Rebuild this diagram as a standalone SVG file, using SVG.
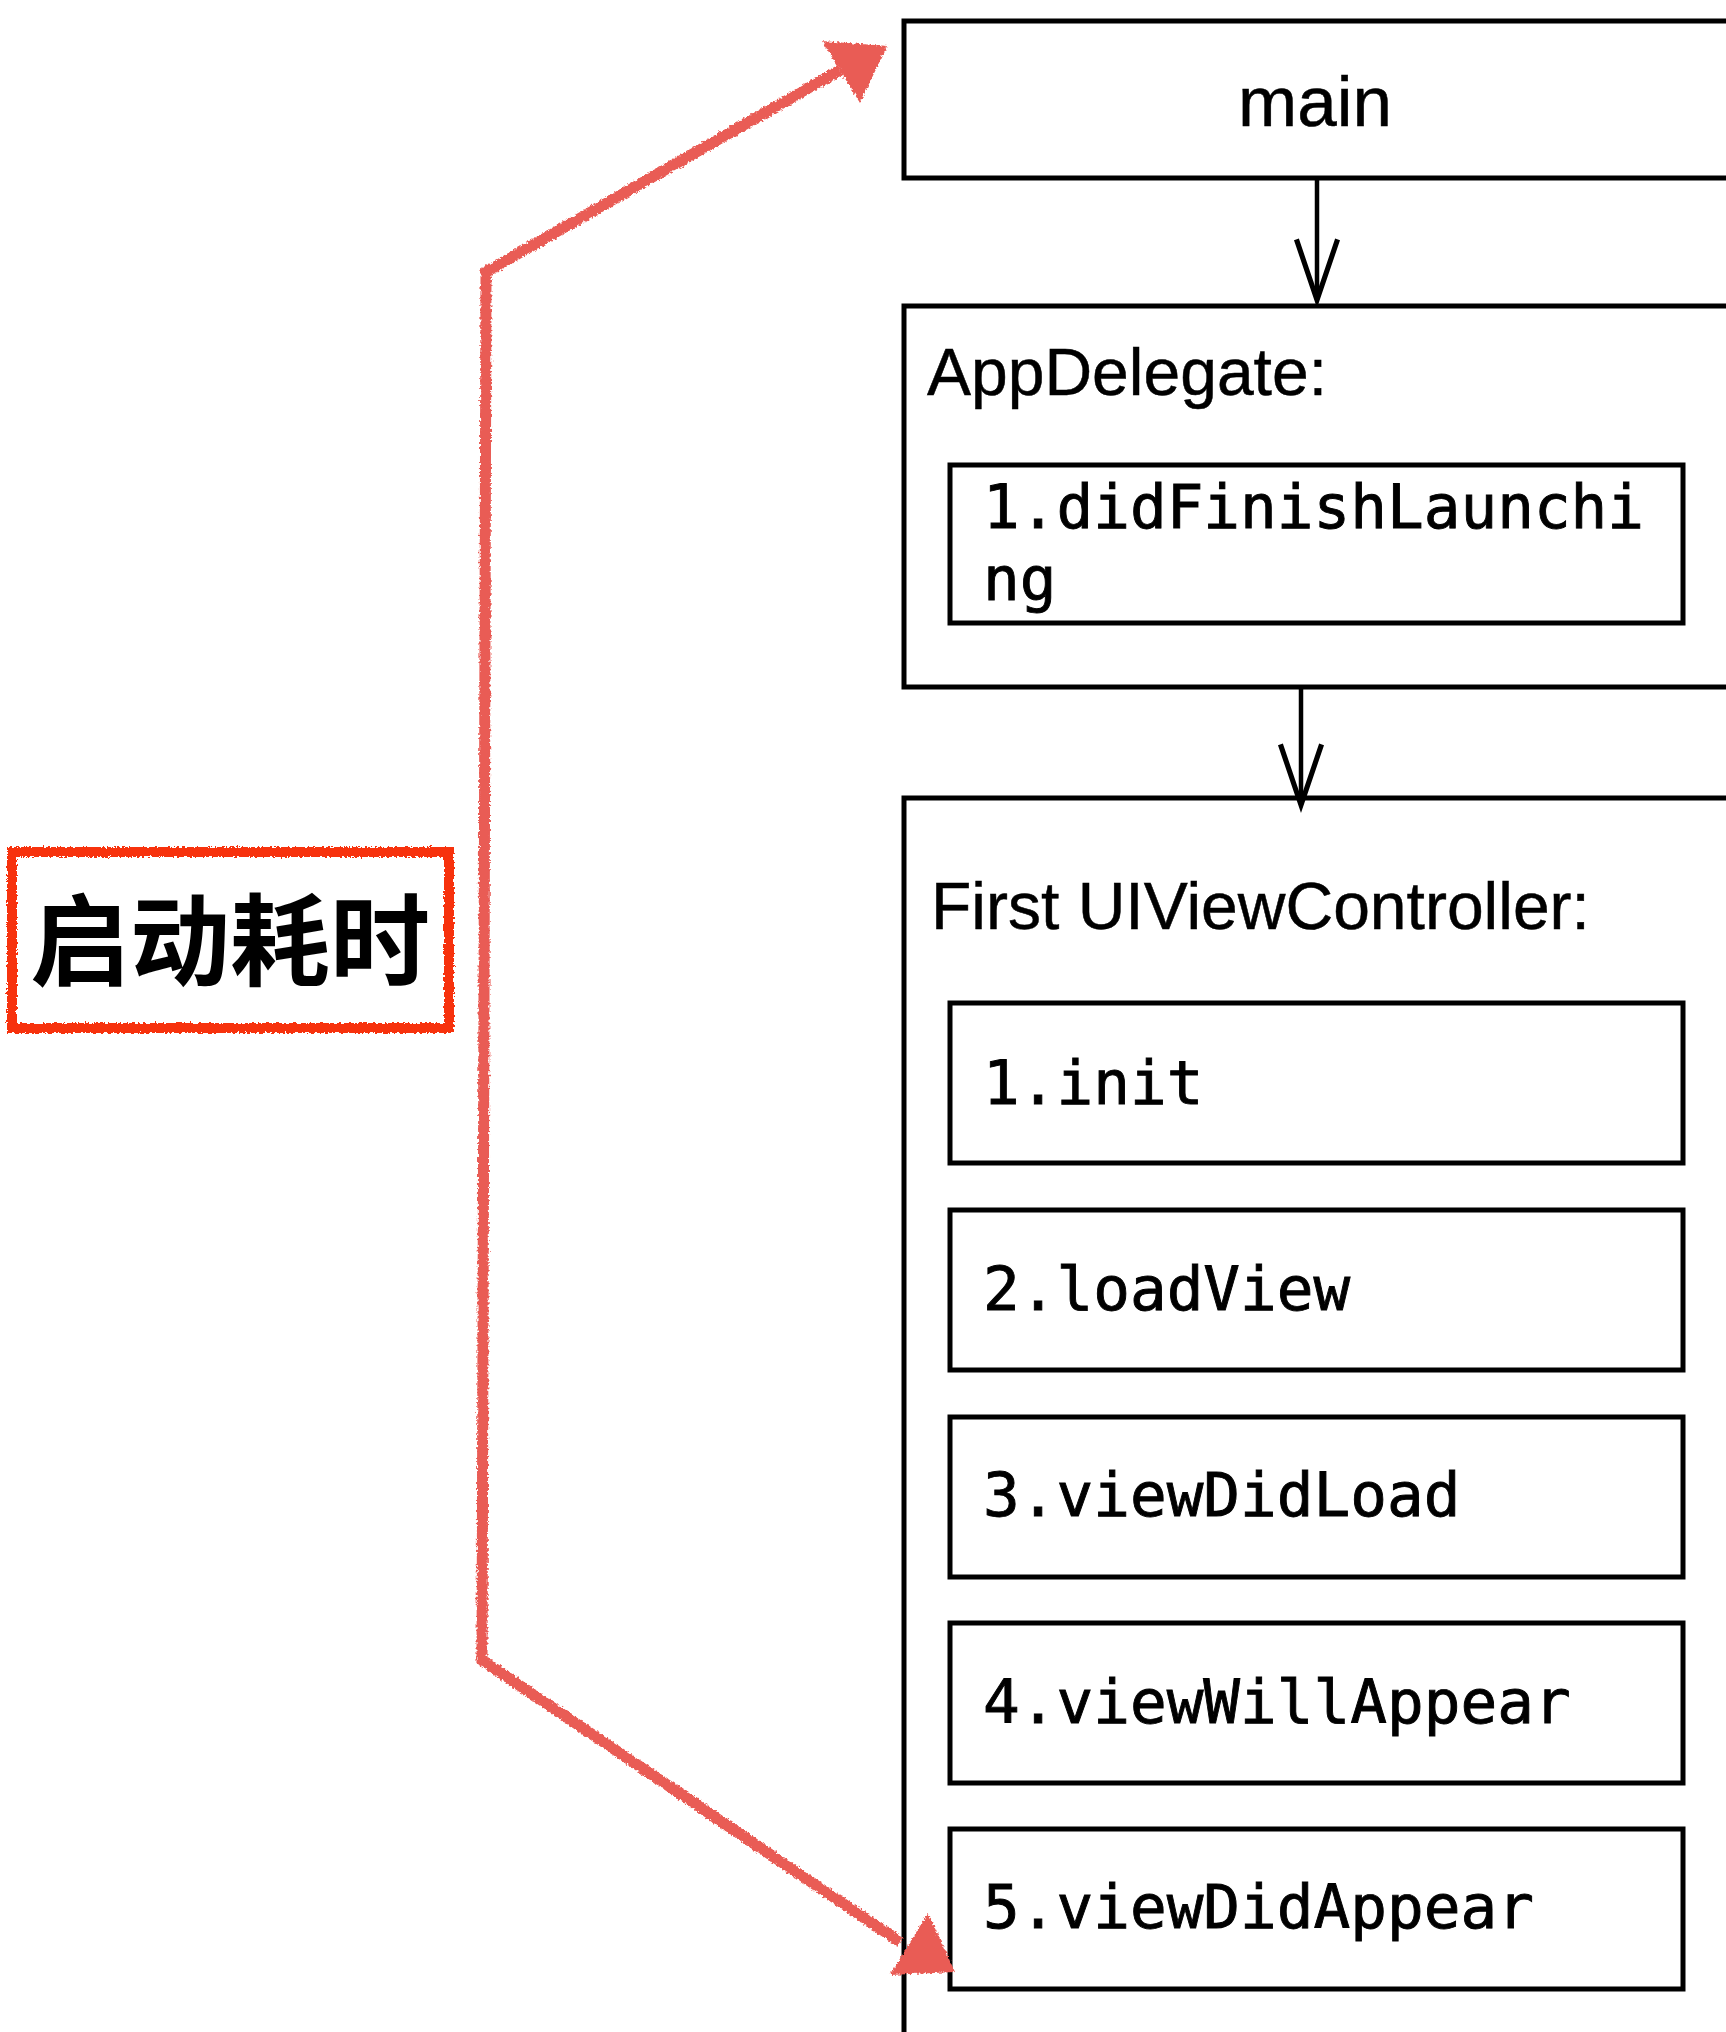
<svg xmlns="http://www.w3.org/2000/svg" width="1726" height="2032" viewBox="0 0 1726 2032">
<style>
.box{fill:none;stroke:#000;stroke-width:5}
.sans{font-family:"Liberation Sans",Arial,sans-serif;fill:#000;stroke:#000;stroke-width:0.5}
.mono{font-family:"DejaVu Sans Mono","Liberation Mono",monospace;font-size:61px;fill:#000;stroke:#000;stroke-width:0.9}
.conn{fill:none;stroke:#000;stroke-width:4.5}
.red{fill:none;stroke:#E95B55;stroke-width:11;stroke-linejoin:miter}
.redhead{fill:#E95B55}
.cjk{font-family:"Noto Sans CJK SC","Noto Sans CJK JP",sans-serif;font-weight:700;font-size:100px;fill:#000}
</style>
<defs>
<marker id="vhead" markerUnits="userSpaceOnUse" markerWidth="80" markerHeight="60" viewBox="-60 -25 70 50" refX="0" refY="0" orient="auto" overflow="visible">
<path d="M-53,-18 L0,0 L-53,18" fill="none" stroke="#000" stroke-width="4.5"/>
</marker>
<filter id="rough" x="-5%" y="-5%" width="110%" height="110%">
<feTurbulence type="fractalNoise" baseFrequency="0.4" numOctaves="2" seed="4" result="n"/>
<feDisplacementMap in="SourceGraphic" in2="n" scale="5" xChannelSelector="R" yChannelSelector="G"/>
</filter>
</defs>
<rect width="1726" height="2032" fill="#fff"/>

<g id="node-main">
<rect class="box" x="904" y="21" width="840" height="157"/>
<text class="sans" x="1315" y="126" font-size="71" text-anchor="middle">main</text>
</g>

<g id="node-appdelegate">
<rect class="box" x="904" y="306" width="840" height="381"/>
<text class="sans" x="927" y="395" font-size="66">AppDelegate:</text>
</g>

<g id="node-didfinish">
<rect class="box" x="950" y="465" width="733" height="158"/>
<text class="mono" x="983" y="528">1.didFinishLaunchi</text>
<text class="mono" x="983" y="600">ng</text>
</g>

<g id="node-viewcontroller">
<rect class="box" x="904" y="798" width="840" height="1260"/>
<text class="sans" x="931" y="929" font-size="66">First UIViewController:</text>
</g>

<g id="node-init">
<rect class="box" x="950" y="1003" width="733" height="160"/>
<text class="mono" x="983" y="1104">1.init</text>
</g>
<g id="node-loadview">
<rect class="box" x="950" y="1210" width="733" height="160"/>
<text class="mono" x="983" y="1310">2.loadView</text>
</g>
<g id="node-viewdidload">
<rect class="box" x="950" y="1417" width="733" height="160"/>
<text class="mono" x="983" y="1516">3.viewDidLoad</text>
</g>
<g id="node-viewwillappear">
<rect class="box" x="950" y="1623" width="733" height="160"/>
<text class="mono" x="983" y="1723">4.viewWillAppear</text>
</g>
<g id="node-viewdidappear">
<rect class="box" x="950" y="1829" width="733" height="160"/>
<text class="mono" x="983" y="1928">5.viewDidAppear</text>
</g>

<g id="node-label">
<rect x="12" y="852" width="437" height="176" fill="#fff" stroke="#F7300F" stroke-width="10" filter="url(#rough)"/>
<text class="cjk" x="230" y="978" text-anchor="middle">启动耗时</text>
</g>

<g id="connectors">
<line class="conn" x1="1317" y1="178" x2="1317" y2="300" marker-end="url(#vhead)"/>
<line class="conn" x1="1301" y1="687" x2="1301" y2="805" marker-end="url(#vhead)"/>
<g filter="url(#rough)">
<polyline class="red" points="840,70 486,272 484,1000 482,1660 900,1942"/>
<polygon class="redhead" points="887,46 822,41 860,103"/>
<polygon class="redhead" points="928,1913 890,1975 955,1972"/>
</g>
</g>
</svg>
